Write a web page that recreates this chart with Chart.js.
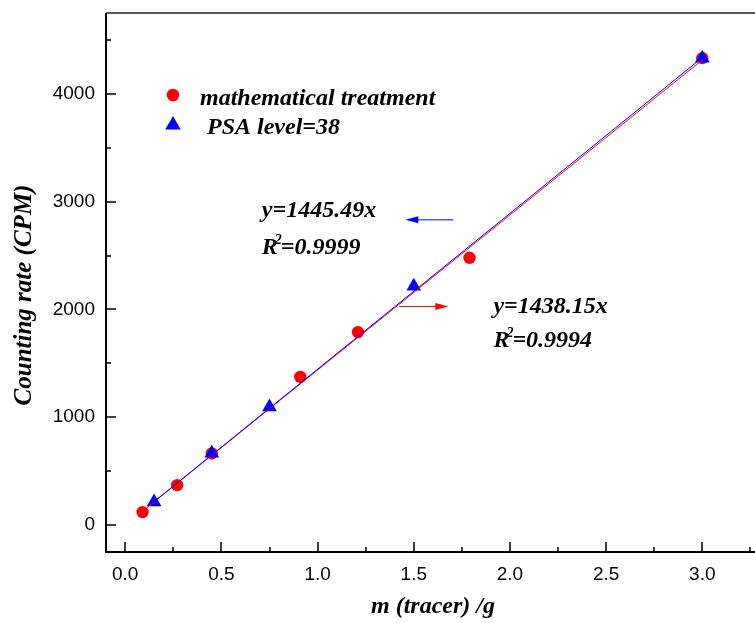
<!DOCTYPE html>
<html>
<head>
<meta charset="utf-8">
<script src="https://cdn.jsdelivr.net/npm/chart.js@4.4.0/dist/chart.umd.min.js"></script>
<style>
  html, body { margin: 0; padding: 0; background: #fff; overflow: hidden; }
  #wrap { width: 770px; height: 623px; }
</style>
</head>
<body>
<div id="wrap"><canvas id="chart" width="770" height="623"></canvas></div>
<script>
// measured points
const mathX = [0.09, 0.27, 0.45, 0.91, 1.21, 1.79, 3.0];
const mathY = [120, 370, 664, 1375, 1790, 2479, 4331];
const psaX = [0.15, 0.45, 0.75, 1.5, 3.0];
const psaY = [214, 667, 1095, 2215, 4331];

// linear fits (ends of the drawn lines)
const mathFitX = [0.09, 3.0];
const mathFitY = [129.4, 4314.5];
const psaFitX = [0.15, 3.0];
const psaFitY = [216.8, 4336.5];

const xTicks = [0, 0.5, 1.0, 1.5, 2.0, 2.5, 3.0];
const xMinor = [0.25, 0.75, 1.25, 1.75, 2.25, 2.75, 3.25];
const yTicks = [0, 1000, 2000, 3000, 4000];
const yMinor = [500, 1500, 2500, 3500, 4500];

const legendLabels = ['mathematical treatment', ' PSA level=38'];
const psaFitText = ['y=1445.49x', '=0.9999'];
const mathFitText = ['y=1438.15x', '=0.9994'];

const RED = '#ff0000';
const BLUE = '#0000ff';
const serif = '"Liberation Serif", "Times New Roman", serif';
const sans = '"Liberation Sans", Arial, sans-serif';
const labelFont = 'italic bold 24px ' + serif;

function pts(xs, ys) {
  return xs.map((x, i) => ({ x: x, y: ys[i] }));
}

const frame = {
  id: 'frame',
  beforeDatasetsDraw(chart) {
    const { ctx, chartArea: a, scales } = chart;
    ctx.save();
    ctx.strokeStyle = '#222';
    ctx.lineWidth = 1.5;
    ctx.beginPath();
    ctx.moveTo(a.left, a.top);
    ctx.lineTo(a.right, a.top);
    ctx.stroke();

    ctx.strokeStyle = '#000';
    ctx.lineWidth = 2;
    ctx.beginPath();
    ctx.moveTo(a.left, a.top);
    ctx.lineTo(a.left, a.bottom);
    ctx.lineTo(a.right, a.bottom);
    ctx.stroke();

    // ticks point inward
    ctx.lineWidth = 1.5;
    ctx.beginPath();
    xTicks.forEach(v => {
      const px = Math.round(scales.x.getPixelForValue(v));
      ctx.moveTo(px, a.bottom); ctx.lineTo(px, a.bottom - 10);
    });
    xMinor.forEach(v => {
      const px = Math.round(scales.x.getPixelForValue(v));
      ctx.moveTo(px, a.bottom); ctx.lineTo(px, a.bottom - 5);
    });
    yTicks.forEach(v => {
      const py = Math.round(scales.y.getPixelForValue(v));
      ctx.moveTo(a.left, py); ctx.lineTo(a.left + 10, py);
    });
    yMinor.forEach(v => {
      const py = Math.round(scales.y.getPixelForValue(v));
      ctx.moveTo(a.left, py); ctx.lineTo(a.left + 5, py);
    });
    ctx.stroke();
    ctx.restore();
  }
};

function arrow(ctx, x1, x2, y, color) {
  const dir = x2 > x1 ? 1 : -1;
  ctx.strokeStyle = color;
  ctx.fillStyle = color;
  ctx.lineWidth = 1;
  ctx.beginPath();
  ctx.moveTo(x1, y);
  ctx.lineTo(x2 - dir * 10, y);
  ctx.stroke();
  ctx.beginPath();
  ctx.moveTo(x2, y);
  ctx.lineTo(x2 - dir * 13, y - 3.5);
  ctx.lineTo(x2 - dir * 13, y + 3.5);
  ctx.closePath();
  ctx.fill();
}

function fitLabel(ctx, text, x, y1, y2) {
  ctx.fillStyle = '#000';
  ctx.font = labelFont;
  ctx.fillText(text[0], x, y1);
  ctx.fillText('R', x, y2);
  const w = ctx.measureText('R').width;
  ctx.font = 'italic bold 14px ' + serif;
  ctx.fillText('2', x + w - 3, y2 - 10);
  ctx.font = labelFont;
  ctx.fillText(text[1], x + w + 3, y2);
}

const notes = {
  id: 'notes',
  afterDatasetsDraw(chart) {
    const { ctx, scales: { x, y } } = chart;
    ctx.save();
    ctx.textBaseline = 'alphabetic';
    ctx.textAlign = 'left';

    // legend
    ctx.fillStyle = RED;
    Chart.helpers.drawPoint(ctx, { pointStyle: 'circle', radius: 6.3, rotation: 0, borderWidth: 0 }, 173, 95);
    ctx.fillStyle = BLUE;
    Chart.helpers.drawPoint(ctx, { pointStyle: 'triangle', radius: 9, rotation: 0, borderWidth: 0 }, 173, 125);
    ctx.fillStyle = '#000';
    ctx.font = labelFont;
    ctx.fillText(legendLabels[0], 200, 105);
    ctx.fillText(legendLabels[1], 201, 134);

    // fit equations
    fitLabel(ctx, psaFitText, x.getPixelForValue(0.71), y.getPixelForValue(2861), y.getPixelForValue(2516));
    fitLabel(ctx, mathFitText, x.getPixelForValue(1.914), y.getPixelForValue(1963), y.getPixelForValue(1651));

    arrow(ctx, x.getPixelForValue(1.706), x.getPixelForValue(1.456), y.getPixelForValue(2831), BLUE);
    arrow(ctx, x.getPixelForValue(1.425), x.getPixelForValue(1.68), y.getPixelForValue(2028), RED);
    ctx.restore();
  }
};

new Chart(document.getElementById('chart'), {
  type: 'scatter',
  data: {
    datasets: [
      { label: 'PSA fit', data: pts(psaFitX, psaFitY), showLine: true, borderColor: BLUE, borderWidth: 1, pointRadius: 0 },
      { label: 'math fit', data: pts(mathFitX, mathFitY), showLine: true, borderColor: RED, borderWidth: 1, pointRadius: 0 },
      { label: legendLabels[1], data: pts(psaX, psaY), pointStyle: 'triangle', pointRadius: 8.5, pointBorderWidth: 0,
        backgroundColor: BLUE, borderColor: BLUE },
      { label: legendLabels[0], data: pts(mathX, mathY), pointStyle: 'circle', pointRadius: 6.2, pointBorderWidth: 0,
        backgroundColor: RED, borderColor: RED }
    ]
  },
  options: {
    responsive: false,
    animation: false,
    events: [],
    layout: { padding: { top: 13, right: 10, left: 0, bottom: 0 } },
    plugins: { legend: { display: false }, tooltip: { enabled: false } },
    scales: {
      x: {
        type: 'linear', min: -0.1, max: 3.3,
        grid: { display: false, drawTicks: false },
        border: { display: false },
        afterBuildTicks: s => { s.ticks = xTicks.map(v => ({ value: v })); },
        afterFit: s => { s.height = 71; s.paddingLeft = 0; s.paddingRight = 0; },
        ticks: { padding: 11, color: '#000', autoSkip: false, maxRotation: 0,
                 font: { family: sans, size: 19 }, callback: v => v.toFixed(1) },
        title: { display: true, text: 'm (tracer) /g', color: '#000', padding: { top: 0, bottom: 2 },
                 font: { family: serif, size: 24, style: 'italic', weight: 'bold' } }
      },
      y: {
        type: 'linear', min: -250, max: 4750,
        grid: { display: false, drawTicks: false },
        border: { display: false },
        afterBuildTicks: s => { s.ticks = yTicks.map(v => ({ value: v })); },
        afterFit: s => { s.width = 106; s.paddingTop = 0; s.paddingBottom = 0; },
        ticks: { padding: 11, color: '#000', font: { family: sans, size: 19 }, callback: v => String(v) },
        title: { display: true, text: 'Counting rate (CPM)    ', color: '#000', padding: { top: 10, bottom: 0 },
                 font: { family: serif, size: 25, style: 'italic', weight: 'bold' } }
      }
    }
  },
  plugins: [frame, notes]
});
</script>
</body>
</html>
